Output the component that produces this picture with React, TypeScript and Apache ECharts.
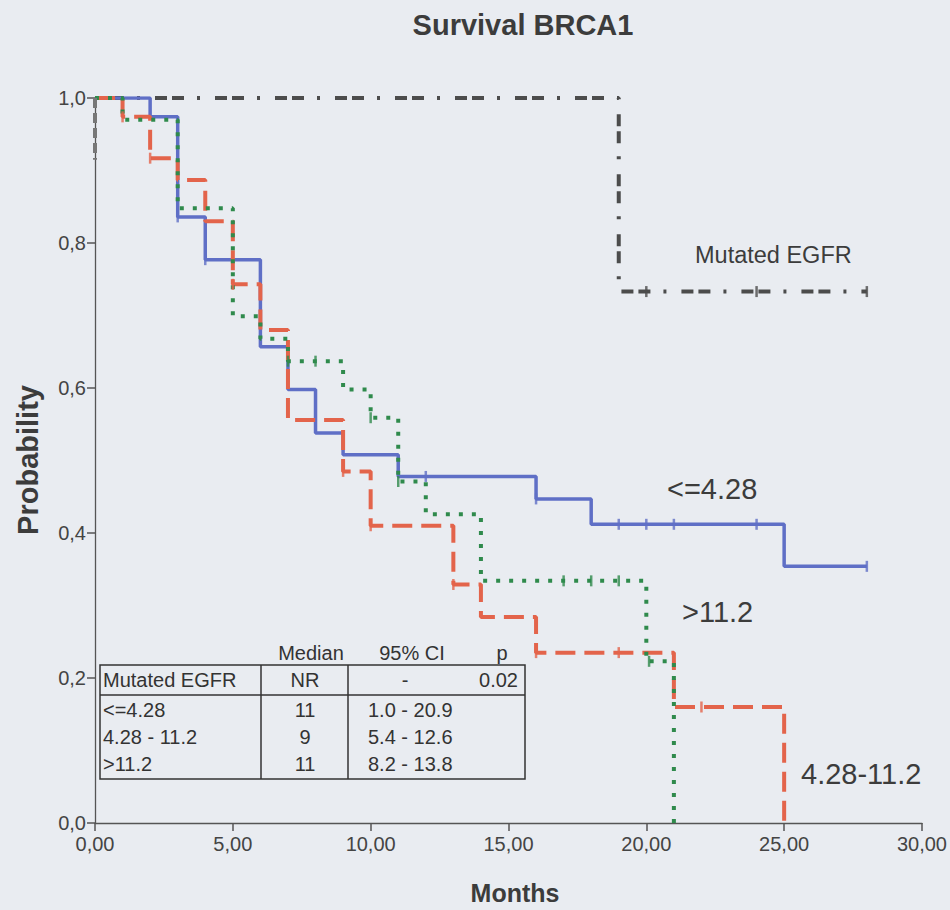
import React, { useEffect, useRef } from "react";
import * as echarts from "echarts";

// ---- Data ----
const blueTimes = [0, 2, 3, 4, 6, 7, 8, 9, 11, 16, 18, 25, 28];
const blueSurv = [1, 0.974, 0.836, 0.777, 0.657, 0.598, 0.538, 0.508, 0.478, 0.447, 0.412, 0.354, 0.354];
const blueCensor = [3, 4, 12, 16, 19, 20, 21, 24, 28];

const redTimes = [0, 1, 2, 3, 4, 5, 6, 7, 9, 10, 13, 14, 16, 21, 25];
const redSurv = [1, 0.974, 0.917, 0.887, 0.83, 0.743, 0.68, 0.556, 0.485, 0.41, 0.329, 0.284, 0.235, 0.16, 0];
const redCensor = [1, 2, 5, 9, 10, 13, 16, 19, 22];

const greenTimes = [0, 1, 3, 5, 6, 7, 9, 10, 11, 12, 14, 20, 21];
const greenSurv = [1, 0.97, 0.848, 0.699, 0.668, 0.637, 0.598, 0.559, 0.471, 0.426, 0.334, 0.223, 0];
const greenCensor = [7, 8, 10, 11, 17, 18, 19, 20.1];

const egfrTimes = [0, 19, 28];
const egfrSurv = [1, 0.733, 0.733];
const egfrCensor = [20, 24, 28];
const egfrStartDrop = 0.915;

const curveLabels = ["Mutated EGFR", "<=4.28", ">11.2", "4.28-11.2"];

const tableHeader = ["Median", "95% CI", "p"];
const tableGroups = ["Mutated EGFR", "<=4.28", "4.28 - 11.2", ">11.2"];
const tableMedians = ["NR", "11", "9", "11"];
const tableCI = ["-", "1.0 - 20.9", "5.4 - 12.6", "8.2 - 13.8"];
const tableP = ["0.02", "", "", ""];

const FONT = "'Liberation Sans', Arial, sans-serif";
const TXT = "#3c3c3c";

function survAt(times: number[], surv: number[], t: number) {
  let v = surv[0];
  for (let i = 0; i < times.length; i++) if (times[i] <= t) v = surv[i];
  return v;
}
function pairs(times: number[], surv: number[]) {
  return times.map((t, i) => [t, surv[i]]);
}
function censorPts(times: number[], surv: number[], cs: number[]) {
  return cs.map((t) => [t, survAt(times, surv, t)]);
}

const BLUE = "#5f6fc6";
const RED = "#e3644b";
const GREEN = "#2f8a4c";
const GRAY = "#4c4c4c";

export default function App() {
  const ref = useRef<HTMLDivElement>(null);
  useEffect(() => {
    if (!ref.current) return;
    const chart = echarts.init(ref.current, undefined, { renderer: "svg" });

    const stepLine = (name: string, times: number[], surv: number[], color: string, width: number, type: any, z: number, extra: any = {}) => ({
      name,
      type: "line",
      step: "end",
      data: pairs(times, surv),
      symbol: "none",
      z,
      lineStyle: { color, width, type, cap: "butt" },
      ...extra,
    });
    const censor = (times: number[], surv: number[], cs: number[], color: string, z: number) => ({
      type: "scatter",
      data: censorPts(times, surv, cs),
      symbol: "rect",
      symbolSize: [2.5, 11],
      itemStyle: { color },
      z,
    });

    const tL = 100, tR = 525, tTop = 665, tRow1 = 695, tBot = 779, c1 = 261, c2 = 348;
    const rowY = [680, 710, 737, 764];
    const tf = { fontFamily: FONT, fontSize: 20, fill: "#333" };
    const tableEls: any[] = [
      { type: "rect", z: 10, shape: { x: tL, y: tTop, width: tR - tL, height: tBot - tTop }, style: { fill: "none", stroke: "#333", lineWidth: 1.5 } },
      { type: "line", z: 10, shape: { x1: tL, y1: tRow1, x2: tR, y2: tRow1 }, style: { stroke: "#333", lineWidth: 1.5 } },
      { type: "line", z: 10, shape: { x1: c1, y1: tTop, x2: c1, y2: tBot }, style: { stroke: "#333", lineWidth: 1.5 } },
      { type: "line", z: 10, shape: { x1: c2, y1: tTop, x2: c2, y2: tBot }, style: { stroke: "#333", lineWidth: 1.5 } },
      { type: "text", x: 311, y: 653, style: { ...tf, text: tableHeader[0], align: "center", verticalAlign: "middle" } },
      { type: "text", x: 412, y: 653, style: { ...tf, text: tableHeader[1], align: "center", verticalAlign: "middle" } },
      { type: "text", x: 502, y: 653, style: { ...tf, text: tableHeader[2], align: "center", verticalAlign: "middle" } },
    ];
    tableGroups.forEach((g, i) => {
      const y = rowY[i];
      tableEls.push({ type: "text", x: 103, y, style: { ...tf, text: g, align: "left", verticalAlign: "middle" } });
      tableEls.push({ type: "text", x: 305, y, style: { ...tf, text: tableMedians[i], align: "center", verticalAlign: "middle" } });
      if (i === 0) tableEls.push({ type: "text", x: 405, y, style: { ...tf, text: tableCI[i], align: "center", verticalAlign: "middle" } });
      else tableEls.push({ type: "text", x: 368, y, style: { ...tf, text: tableCI[i], align: "left", verticalAlign: "middle" } });
      if (tableP[i]) tableEls.push({ type: "text", x: 518, y, style: { ...tf, text: tableP[i], align: "right", verticalAlign: "middle" } });
    });

    const option: any = {
      animation: false,
      backgroundColor: "#e9ecf1",
      grid: { left: 95, right: 27, top: 98, bottom: 87, containLabel: false },
      xAxis: {
        type: "value",
        min: 0,
        max: 30,
        interval: 5,
        splitLine: { show: false },
        axisLine: { lineStyle: { color: "#555", width: 1.3 } },
        axisTick: { show: true, inside: false, length: 8, lineStyle: { color: "#555", width: 1.5 } },
        axisLabel: {
          margin: 11,
          fontFamily: FONT,
          fontSize: 20,
          color: "#444",
          formatter: (v: number) => v.toFixed(2).replace(".", ","),
        },
      },
      yAxis: {
        type: "value",
        min: 0,
        max: 1,
        interval: 0.2,
        splitLine: { show: false },
        axisLine: { show: true, lineStyle: { color: "#555", width: 1.3 } },
        axisTick: { show: true, inside: false, length: 8, lineStyle: { color: "#555", width: 1.5 } },
        axisLabel: {
          margin: 9,
          fontFamily: FONT,
          fontSize: 20,
          color: "#444",
          formatter: (v: number) => v.toFixed(1).replace(".", ","),
        },
      },
      series: [
        stepLine("Mutated EGFR", egfrTimes, egfrSurv, GRAY, 4, [12, 5, 12, 13, 3, 15], 1, {
          markLine: {
            silent: true,
            symbol: "none",
            label: { show: false },
            lineStyle: { color: "#777", width: 4, type: [10, 5] },
            data: [[{ coord: [0, 1] }, { coord: [0, egfrStartDrop] }]],
          },
        }),
        stepLine("<=4.28", blueTimes, blueSurv, BLUE, 3.5, "solid", 2),
        stepLine("4.28-11.2", redTimes, redSurv, RED, 4, [20, 9], 3),
        stepLine(">11.2", greenTimes, greenSurv, GREEN, 4, [4, 9], 4),
        censor(blueTimes, blueSurv, blueCensor, BLUE, 6),
        censor(redTimes, redSurv, redCensor, RED, 6),
        censor(greenTimes, greenSurv, greenCensor, GREEN, 6),
        censor(egfrTimes, egfrSurv, egfrCensor, GRAY, 6),
      ],
      graphic: [
        { type: "text", x: 523, y: 25, style: { text: "Survival BRCA1", fontFamily: FONT, fontSize: 29, fontWeight: "bold", fill: TXT, align: "center", verticalAlign: "middle" } },
        { type: "text", x: 28, y: 460, rotation: Math.PI / 2, style: { text: "Probability", fontFamily: FONT, fontSize: 29, fontWeight: "bold", fill: TXT, align: "center", verticalAlign: "middle" } },
        { type: "text", x: 515, y: 893, style: { text: "Months", fontFamily: FONT, fontSize: 25, fontWeight: "bold", fill: TXT, align: "center", verticalAlign: "middle" } },
        { type: "text", x: 695, y: 255, style: { text: curveLabels[0], fontFamily: FONT, fontSize: 23.5, fill: TXT, align: "left", verticalAlign: "middle" } },
        { type: "text", x: 667, y: 489, style: { text: curveLabels[1], fontFamily: FONT, fontSize: 29, fill: TXT, align: "left", verticalAlign: "middle" } },
        { type: "text", x: 682, y: 612, style: { text: curveLabels[2], fontFamily: FONT, fontSize: 29, fill: TXT, align: "left", verticalAlign: "middle" } },
        { type: "text", x: 801, y: 774, style: { text: curveLabels[3], fontFamily: FONT, fontSize: 29, fill: TXT, align: "left", verticalAlign: "middle" } },
        ...tableEls,
      ],
    };
    chart.setOption(option);
    return () => chart.dispose();
  }, []);
  return <div ref={ref} style={{ position: "absolute", left: 0, top: 0, width: 950, height: 910 }} />;
}
